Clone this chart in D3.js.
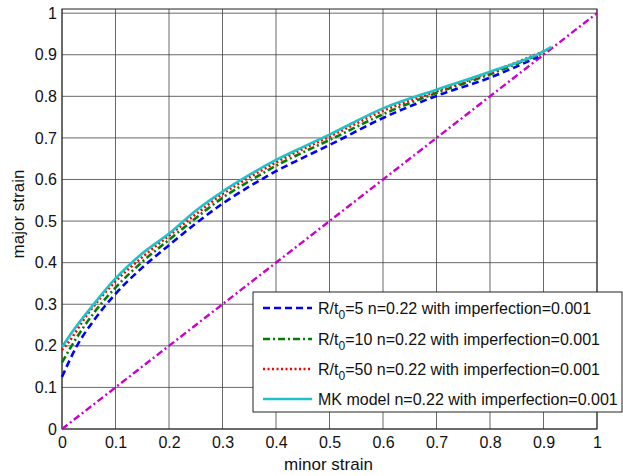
<!DOCTYPE html>
<html>
<head>
<meta charset="utf-8">
<script src="https://cdn.jsdelivr.net/npm/d3@7"></script>
<style>
  html, body { margin: 0; padding: 0; background: #fff; }
  svg { display: block; font-family: "Liberation Sans", Arial, sans-serif; }
</style>
</head>
<body>
<svg id="chart" width="623" height="476"></svg>
<script>
// Forming limit curves: minor strain (x) vs major strain (y)
const xTicks = [0, 0.1, 0.2, 0.3, 0.4, 0.5, 0.6, 0.7, 0.8, 0.9, 1];
const yTicks = [0, 0.1, 0.2, 0.3, 0.4, 0.5, 0.6, 0.7, 0.8, 0.9, 1];

// R/t0 = 5
const rt5X = [0, 0.027, 0.06, 0.1, 0.15, 0.2, 0.25, 0.3, 0.35, 0.4, 0.45, 0.5, 0.6, 0.7, 0.8, 0.89];
const rt5Y = [0.125, 0.198, 0.262, 0.325, 0.388, 0.442, 0.494, 0.542, 0.583, 0.62, 0.652, 0.683, 0.748, 0.801, 0.845, 0.895];
// R/t0 = 10
const rt10X = [0, 0.018, 0.06, 0.1, 0.15, 0.2, 0.25, 0.3, 0.35, 0.4, 0.45, 0.5, 0.6, 0.7, 0.8, 0.9];
const rt10Y = [0.16, 0.2, 0.28, 0.34, 0.402, 0.455, 0.507, 0.556, 0.596, 0.633, 0.665, 0.695, 0.757, 0.808, 0.853, 0.905];
// R/t0 = 50
const rt50X = [0, 0.01, 0.05, 0.1, 0.15, 0.2, 0.25, 0.3, 0.35, 0.4, 0.45, 0.5, 0.6, 0.7, 0.8, 0.91];
const rt50Y = [0.19, 0.205, 0.28, 0.355, 0.413, 0.465, 0.516, 0.565, 0.605, 0.641, 0.673, 0.703, 0.765, 0.812, 0.857, 0.913];
// MK model
const mkX = [0, 0.02, 0.058, 0.1, 0.146, 0.2, 0.25, 0.3, 0.35, 0.4, 0.45, 0.5, 0.6, 0.7, 0.8, 0.9, 0.915];
const mkY = [0.197, 0.235, 0.298, 0.362, 0.418, 0.47, 0.525, 0.571, 0.611, 0.647, 0.678, 0.708, 0.771, 0.816, 0.859, 0.908, 0.919];
// Equibiaxial reference line
const diagX = [0, 1];
const diagY = [0, 1];

const seriesNames = [
  "R/t0=5 n=0.22 with imperfection=0.001",
  "R/t0=10 n=0.22 with imperfection=0.001",
  "R/t0=50 n=0.22 with imperfection=0.001",
  "MK model n=0.22 with imperfection=0.001"
];

const svg = d3.select("#chart");
const plotLeft = 62, plotRight = 597, plotTop = 9, plotBottom = 429;

const x = d3.scaleLinear().domain([0, 1]).range([plotLeft, plotRight]);
const y = d3.scaleLinear().domain([0, 1.01]).range([plotBottom, plotTop]);

// grid
const grid = svg.append("g").attr("stroke", "#3a3a3a").attr("stroke-width", 0.9).attr("stroke-opacity", 0.85);
xTicks.forEach(t => grid.append("line").attr("x1", x(t)).attr("x2", x(t)).attr("y1", plotTop).attr("y2", plotBottom));
yTicks.forEach(t => grid.append("line").attr("x1", plotLeft).attr("x2", plotRight).attr("y1", y(t)).attr("y2", y(t)));

// axes
const xAxis = d3.axisBottom(x).tickValues(xTicks).tickFormat(d3.format("~g")).tickSize(0).tickPadding(8);
const yAxis = d3.axisLeft(y).tickValues(yTicks).tickFormat(d3.format("~g")).tickSize(0).tickPadding(5);
const gx = svg.append("g").attr("transform", `translate(0,${plotBottom})`).call(xAxis);
const gy = svg.append("g").attr("transform", `translate(${plotLeft},0)`).call(yAxis);
[gx, gy].forEach(g => {
  g.select(".domain").remove();
  g.selectAll("text").attr("font-size", 16).attr("fill", "#111").attr("font-family", "Liberation Sans, Arial, sans-serif");
});

// box
svg.append("rect").attr("x", plotLeft).attr("y", plotTop).attr("width", plotRight - plotLeft).attr("height", plotBottom - plotTop)
  .attr("fill", "none").attr("stroke", "#222").attr("stroke-width", 1);

// axis titles
svg.append("text")
  .attr("x", (plotLeft + plotRight) / 2 - 1).attr("y", 470).attr("text-anchor", "middle")
  .attr("font-size", 17).attr("fill", "#111")
  .text("minor strain");
svg.append("text")
  .attr("transform", `translate(24,214) rotate(-90)`)
  .attr("text-anchor", "middle")
  .attr("font-size", 17).attr("fill", "#111")
  .text("major strain");

const line = d3.line().x(d => x(d[0])).y(d => y(d[1]));
const zip = (a, b) => a.map((v, i) => [v, b[i]]);

const styles = [
  { color: "#0000ff", dash: "7,4", width: 2.6 },
  { color: "#008000", dash: "7,3,2,3", width: 2.6 },
  { color: "#ff0000", dash: "2,2.5", width: 2.6 },
  { color: "#1ec2c8", dash: null, width: 2.6 }
];
const seriesData = [zip(rt5X, rt5Y), zip(rt10X, rt10Y), zip(rt50X, rt50Y), zip(mkX, mkY)];

// diagonal
svg.append("path").datum(zip(diagX, diagY)).attr("d", line)
  .attr("fill", "none").attr("stroke", "#cc00cc").attr("stroke-width", 2.4).attr("stroke-dasharray", "7,3,2,3");

seriesData.forEach((d, i) => {
  svg.append("path").datum(d).attr("d", line.curve(d3.curveMonotoneX))
    .attr("fill", "none").attr("stroke", styles[i].color).attr("stroke-width", styles[i].width)
    .attr("stroke-dasharray", styles[i].dash);
});

// legend
const lg = svg.append("g");
const lx = 253, ly = 292, lw = 369, lh = 120;
lg.append("rect").attr("x", lx).attr("y", ly).attr("width", lw).attr("height", lh)
  .attr("fill", "#fff").attr("stroke", "#222").attr("stroke-width", 1);
const rowY = [308, 339, 369, 399];
seriesNames.forEach((name, i) => {
  lg.append("line").attr("x1", 263).attr("x2", 312).attr("y1", rowY[i]).attr("y2", rowY[i])
    .attr("stroke", styles[i].color).attr("stroke-width", styles[i].width).attr("stroke-dasharray", styles[i].dash);
  const t = lg.append("text").attr("x", 318).attr("y", rowY[i] + 5.8).attr("font-size", 16).attr("fill", "#111");
  const m = name.match(/^R\/t0(.*)$/);
  if (m) {
    t.append("tspan").text("R/t");
    t.append("tspan").attr("font-size", 12).attr("dy", 5).text("0");
    t.append("tspan").attr("dy", -5).text(m[1]);
  } else {
    t.text(name);
  }
});
</script>
</body>
</html>
